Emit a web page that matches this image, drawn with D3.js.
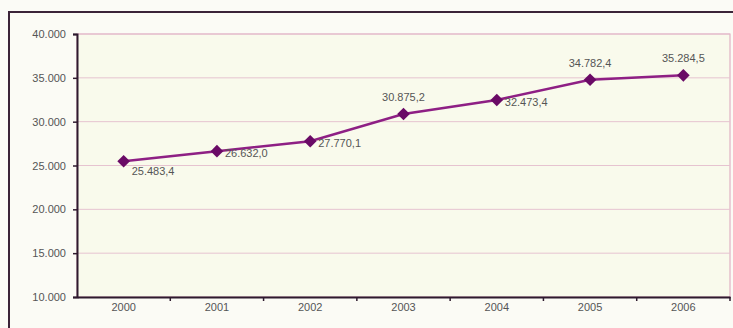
<!DOCTYPE html>
<html>
<head>
<meta charset="utf-8">
<script src="https://cdn.jsdelivr.net/npm/d3@7"></script>
<style>
  html, body { margin: 0; padding: 0; background: #fbfbf6; }
  svg { display: block; }
  text { font-family: "Liberation Sans", Arial, sans-serif; }
</style>
</head>
<body>
<svg id="chart" width="733" height="328"></svg>
<script>
// Series data
const years = ["2000", "2001", "2002", "2003", "2004", "2005", "2006"];
const values = [25483.4, 26632.0, 27770.1, 30875.2, 32473.4, 34782.4, 35284.5];
const yTicks = [10000, 15000, 20000, 25000, 30000, 35000, 40000];
// Where each value label sits relative to its marker
const labelPlacement = ["belowRight", "right", "right", "above", "right", "above", "above"];

const es = d3.formatLocale({ decimal: ",", thousands: ".", grouping: [3], currency: ["", " €"] });
const fmtTick = es.format(",.0f");
const fmtVal = es.format(",.1f");

const W = 733, H = 328;
const plot = { left: 77, right: 730, top: 34, bottom: 297 };

const svg = d3.select("#chart");

// Outer chart frame
svg.append("rect")
  .attr("x", 9).attr("y", 12)
  .attr("width", W + 20).attr("height", H + 20)
  .attr("fill", "#fbfbf5")
  .attr("stroke", "#3b2438").attr("stroke-width", 2);

const x = d3.scaleBand().domain(years).range([plot.left, plot.right]).paddingInner(0).paddingOuter(0);
const y = d3.scaleLinear().domain([10000, 40000]).range([plot.bottom, plot.top]);

// Plot area
svg.append("rect")
  .attr("x", plot.left).attr("y", plot.top)
  .attr("width", plot.right - plot.left).attr("height", plot.bottom - plot.top)
  .attr("fill", "#f9faec")
  .attr("stroke", "#dba2bb").attr("stroke-width", 1);

// Horizontal gridlines
svg.append("g").selectAll("line")
  .data(yTicks.slice(1))
  .join("line")
  .attr("x1", plot.left).attr("x2", plot.right)
  .attr("y1", d => y(d)).attr("y2", d => y(d))
  .attr("stroke", "#e6c3d0").attr("stroke-width", 1);

// Y axis
const yAxis = svg.append("g")
  .attr("transform", `translate(${plot.left},0)`)
  .call(d3.axisLeft(y).tickValues(yTicks).tickFormat(fmtTick).tickSize(4).tickPadding(7));
yAxis.select(".domain").attr("stroke", "#2e1a2e").attr("stroke-width", 2);
yAxis.selectAll(".tick line").attr("stroke", "#2e1a2e").attr("stroke-width", 1.5);
yAxis.selectAll(".tick text").attr("fill", "#555").attr("font-size", 11);

// X axis with ticks between categories
const xAxis = svg.append("g")
  .attr("transform", `translate(0,${plot.bottom})`)
  .call(d3.axisBottom(x).tickSize(0).tickPadding(6));
xAxis.select(".domain").attr("stroke", "#2e1a2e").attr("stroke-width", 2);
xAxis.selectAll(".tick text").attr("fill", "#555").attr("font-size", 11);
xAxis.append("g").selectAll("line")
  .data(years)
  .join("line")
  .attr("x1", d => x(d) + x.bandwidth())
  .attr("x2", d => x(d) + x.bandwidth())
  .attr("y1", 0).attr("y2", 4)
  .attr("stroke", "#2e1a2e").attr("stroke-width", 1.5);

const cx = d => x(d) + x.bandwidth() / 2;

// Line
svg.append("path")
  .datum(values)
  .attr("fill", "none")
  .attr("stroke", "#8e1f84")
  .attr("stroke-width", 2.5)
  .attr("d", d3.line().x((d, i) => cx(years[i])).y(d => y(d)));

// Diamond markers (squares turned 45°)
svg.append("g").selectAll("path")
  .data(values)
  .join("path")
  .attr("transform", (d, i) => `translate(${cx(years[i])},${y(d)}) rotate(45)`)
  .attr("d", d3.symbol(d3.symbolSquare, 80))
  .attr("fill", "#6a0a66");

// Value labels
svg.append("g").selectAll("text")
  .data(values)
  .join("text")
  .attr("font-size", 11)
  .attr("fill", "#555")
  .attr("x", (d, i) => {
    const p = labelPlacement[i], c = cx(years[i]);
    return p === "above" ? c : c + 8;
  })
  .attr("y", (d, i) => {
    const p = labelPlacement[i], c = y(d);
    if (p === "above") return c - 13;
    if (p === "belowRight") return c + 14;
    return c + 6;
  })
  .attr("text-anchor", (d, i) => labelPlacement[i] === "above" ? "middle" : "start")
  .text(d => fmtVal(d));
</script>
</body>
</html>
